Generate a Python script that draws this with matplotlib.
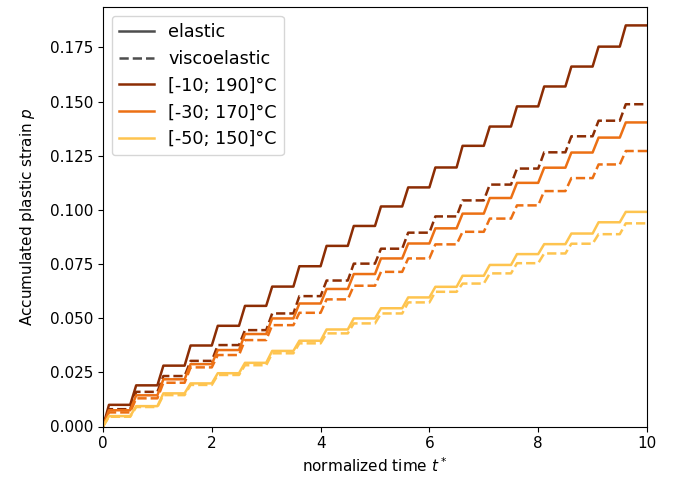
import matplotlib
matplotlib.use("Agg")
import matplotlib.pyplot as plt
from matplotlib.lines import Line2D

# plateau values of accumulated plastic strain after each of the 20 load cycles
labels = ["[-10; 190]°C", "[-30; 170]°C", "[-50; 150]°C"]
colors = ["#8c2d04", "#ec7014", "#fec44f"]

elastic_hot = [0.0100, 0.0190, 0.0281, 0.0374, 0.0465, 0.0557, 0.0646, 0.0740, 0.0834, 0.0926,
               0.1016, 0.1104, 0.1196, 0.1296, 0.1385, 0.1478, 0.1570, 0.1662, 0.1754, 0.1852]
visco_hot = [0.0080, 0.0160, 0.0233, 0.0303, 0.0376, 0.0445, 0.0522, 0.0602, 0.0674, 0.0752,
             0.0821, 0.0895, 0.0970, 0.1044, 0.1117, 0.1191, 0.1266, 0.1340, 0.1412, 0.1488]
elastic_mid = [0.0075, 0.0144, 0.0218, 0.0288, 0.0353, 0.0427, 0.0499, 0.0568, 0.0635, 0.0704,
               0.0776, 0.0845, 0.0915, 0.0983, 0.1055, 0.1125, 0.1195, 0.1265, 0.1334, 0.1404]
visco_mid = [0.0065, 0.0130, 0.0202, 0.0273, 0.0330, 0.0399, 0.0468, 0.0525, 0.0587, 0.0650,
             0.0714, 0.0776, 0.0841, 0.0899, 0.0960, 0.1021, 0.1087, 0.1147, 0.1210, 0.1272]
elastic_cold = [0.0048, 0.0094, 0.0153, 0.0199, 0.0246, 0.0294, 0.0349, 0.0396, 0.0448, 0.0499,
                0.0546, 0.0596, 0.0645, 0.0696, 0.0746, 0.0796, 0.0842, 0.0891, 0.0943, 0.0991]
visco_cold = [0.0045, 0.0090, 0.0145, 0.0192, 0.0238, 0.0283, 0.0338, 0.0384, 0.0430, 0.0476,
              0.0522, 0.0573, 0.0622, 0.0660, 0.0707, 0.0754, 0.0799, 0.0844, 0.0888, 0.0938]

cycle_start = [0.5 * k for k in range(20)]   # start time of each load cycle
ramp_end = [s + 0.11 for s in cycle_start]   # time when plastic increment is complete
t_end = 10.0


def staircase(plateaus):
    t, p = [0.0], [0.0]
    prev = 0.0
    for s, e, v in zip(cycle_start, ramp_end, plateaus):
        t += [s, e]
        p += [prev, v]
        prev = v
    t.append(t_end)
    p.append(prev)
    return t, p


fig = plt.figure(figsize=(6.86, 4.79), dpi=100)
ax = fig.add_axes([103 / 686, 1 - 426.5 / 479, 544 / 686, 419.5 / 479])

elastic = [elastic_hot, elastic_mid, elastic_cold]
visco = [visco_hot, visco_mid, visco_cold]
for c, el, vi in zip(colors, elastic, visco):
    ax.plot(*staircase(el), color=c, lw=1.8, ls="-")
    ax.plot(*staircase(vi), color=c, lw=1.8, ls="--")

ax.set_xlim(0, 10)
ax.set_ylim(0, 0.1937)
ax.set_yticks([0, 0.025, 0.05, 0.075, 0.1, 0.125, 0.15, 0.175])
ax.set_xticks([0, 2, 4, 6, 8, 10])
ax.set_xlabel("normalized time $t^*$", fontsize=11)
ax.set_ylabel("Accumulated plastic strain $p$", fontsize=11, labelpad=9)
ax.tick_params(labelsize=11)

handles = [Line2D([], [], color="0.3", lw=1.8, ls="-"),
           Line2D([], [], color="0.3", lw=1.8, ls="--")]
handles += [Line2D([], [], color=c, lw=1.8) for c in colors]
ax.legend(handles, ["elastic", "viscoelastic"] + labels, loc="upper left", fontsize=12.7)

fig.savefig("out.png", dpi=100)
